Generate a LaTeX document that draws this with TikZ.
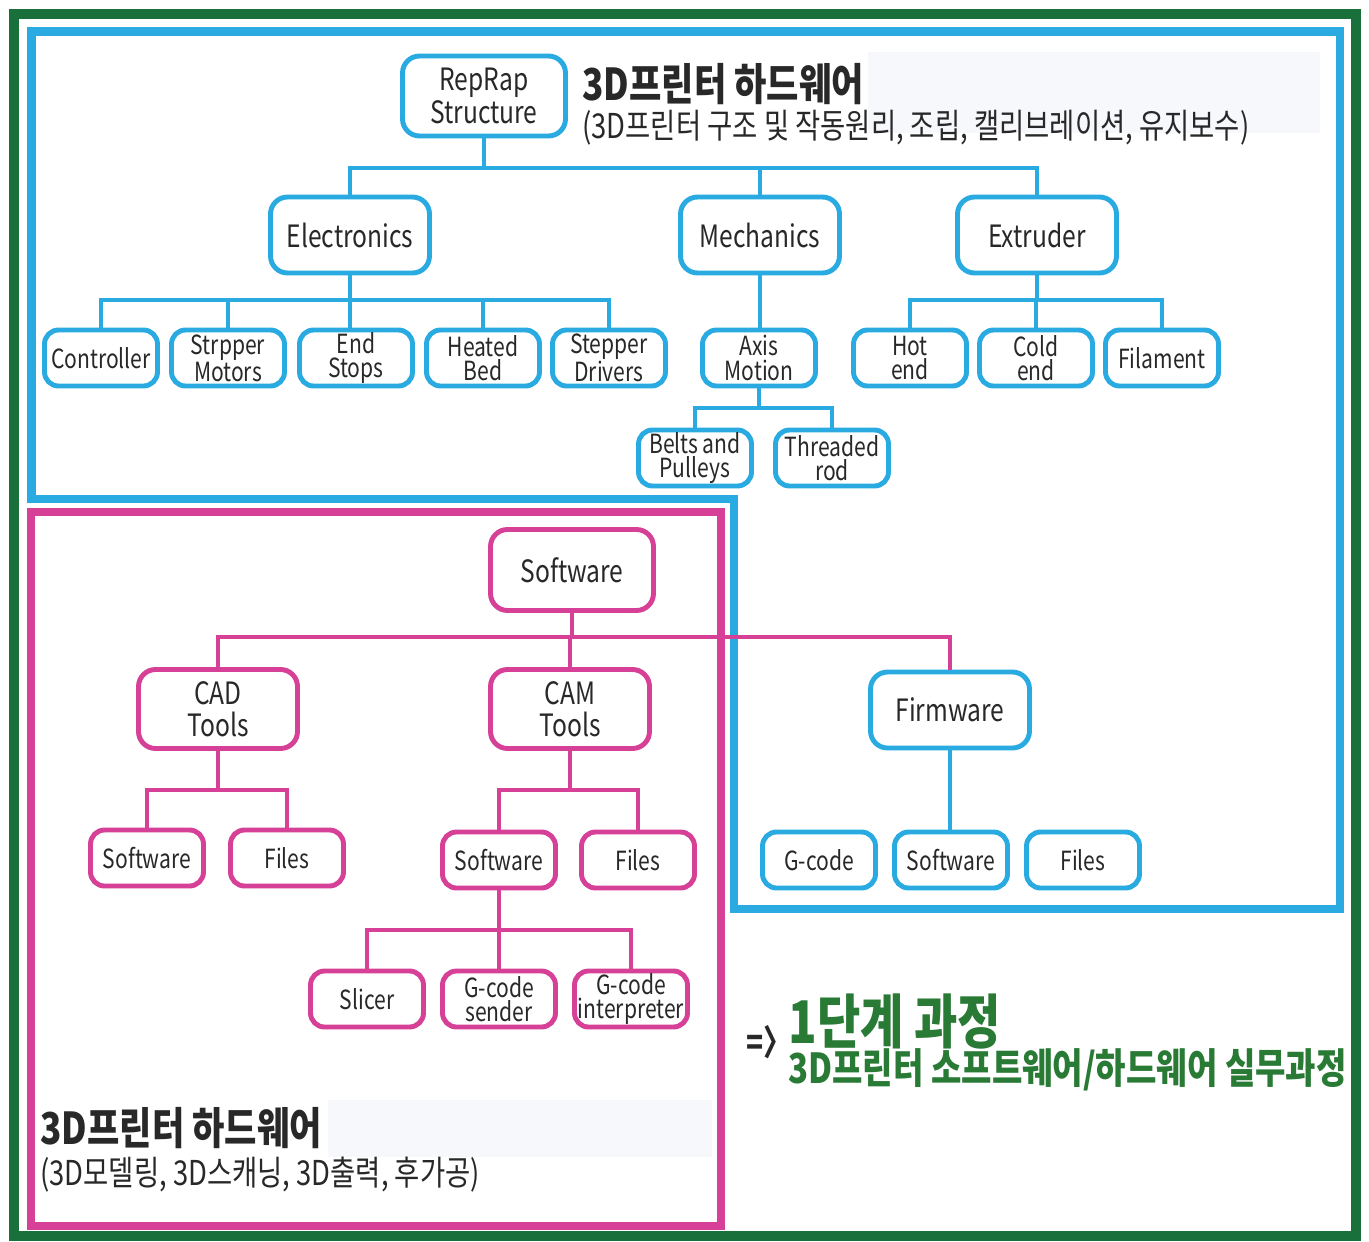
\documentclass[tikz,border=0pt]{standalone}
\usepackage{fontspec}
\setmainfont{Noto Sans CJK KR}[FakeStretch=0.8]
\usetikzlibrary{calc}
\definecolor{myblue}{RGB}{41,171,226}
\definecolor{mypink}{RGB}{214,64,150}
\definecolor{mygreen}{RGB}{26,112,58}
\definecolor{gtext}{RGB}{40,122,52}
\definecolor{txt}{RGB}{40,40,40}
\definecolor{faint}{RGB}{247,248,251}
\begin{document}
\begin{tikzpicture}[x=0.02cm,y=-0.02cm,
  box/.style={draw, line width=2.8pt, rounded corners=0.34cm, fill=white, text=txt, align=center, inner sep=0pt},
  big/.style={box, minimum width=3.18cm, minimum height=1.52cm, font=\fontsize{17.5}{18.5}\selectfont},
  leaf/.style={box, rounded corners=0.28cm, minimum width=2.26cm, minimum height=1.12cm, font=\fontsize{15}{14}\selectfont},
  bb/.style={draw=myblue},
  pb/.style={draw=mypink},
  bconn/.style={draw=myblue, line width=2.8pt},
  pconn/.style={draw=mypink, line width=2.8pt},
  frame/.style={line width=4.6pt},
  lbl/.style={inner sep=0pt, anchor=west, text=txt}
]
\useasboundingbox (0,0) rectangle (1369,1241);
\fill[white] (0,0) rectangle (1369,1241);
% faint backgrounds behind headings
\fill[faint] (868,52) rectangle (1320,133);
\fill[faint] (328,1100) rectangle (712,1157);
% frames
\draw[mygreen, line width=6.2pt] (14,14) rectangle (1356,1236);
\draw[myblue, frame] (31.5,31.5) -- (1340,31.5) -- (1340,909) -- (734,909) -- (734,499) -- (31.5,499) -- cycle;
\draw[mypink, frame] (31,512) rectangle (721,1226);

% headings
\node[lbl, font=\fontsize{25}{27}\bfseries] (h1) at (582,84) {3D프린터 하드웨어};
\node[lbl, font=\fontsize{19.5}{21}\selectfont] (s1) at (582,128) {(3D프린터 구조 및 작동원리, 조립, 캘리브레이션, 유지보수)};
\node[lbl, font=\fontsize{25}{27}\bfseries] (h2) at (40,1128) {3D프린터 하드웨어};
\node[lbl, font=\fontsize{19.5}{21}\selectfont] (s2) at (40,1175) {(3D모델링, 3D스캐닝, 3D출력, 후가공)};
\node[lbl, font=\fontsize{20}{22}\bfseries] (arr) at (746,1042) {=〉};
\node[lbl, text=gtext, font=\fontsize{33.5}{35}\bfseries] (g1) at (788,1022) {1단계 과정};
\node[lbl, text=gtext, font=\fontsize{23.5}{25}\bfseries] (g2) at (788,1070) {3D프린터 소프트웨어/하드웨어 실무과정};

% blue tree
\node[big, bb, minimum width=3.26cm, minimum height=1.6cm] (rep) at (484,96) {RepRap\\Structure};
\node[big, bb] (ele) at (350,235) {Electronics};
\node[big, bb] (mec) at (760,235) {Mechanics};
\node[big, bb] (ext) at (1037,235) {Extruder};
\node[leaf, bb] (ctl) at (101,358) {Controller};
\node[leaf, bb] (smo) at (228,358) {Strpper\\Motors};
\node[leaf, bb] (est) at (356,358) {End\\Stops};
\node[leaf, bb] (hbe) at (483,358) {Heated\\Bed};
\node[leaf, bb] (sdr) at (609,358) {Stepper\\Drivers};
\node[leaf, bb] (axm) at (759,358) {Axis\\Motion};
\node[leaf, bb] (hot) at (910,358) {Hot\\end};
\node[leaf, bb] (cold) at (1036,358) {Cold\\end};
\node[leaf, bb] (fil) at (1162,358) {Filament};
\node[leaf, bb] (bel) at (695,458) {Belts and\\Pulleys};
\node[leaf, bb] (thr) at (832,458) {Threaded\\rod};
\node[big, bb] (fw) at (950,710) {Firmware};
\node[leaf, bb] (gco) at (819,860) {G-code};
\node[leaf, bb] (fsw) at (951,860) {Software};
\node[leaf, bb] (ffi) at (1083,860) {Files};

% pink tree
\node[big, pb, minimum width=3.26cm, minimum height=1.62cm] (sw) at (572,570) {Software};
\node[big, pb, minimum height=1.58cm] (cad) at (218,709) {CAD\\Tools};
\node[big, pb, minimum height=1.58cm] (cam) at (570,709) {CAM\\Tools};
\node[leaf, pb] (csw) at (147,858) {Software};
\node[leaf, pb] (cfi) at (287,858) {Files};
\node[leaf, pb] (msw) at (499,860) {Software};
\node[leaf, pb] (mfi) at (638,860) {Files};
\node[leaf, pb] (sli) at (367,999) {Slicer};
\node[leaf, pb] (gse) at (499,999) {G-code\\sender};
\node[leaf, pb] (gin) at (631,999) {G-code\\interpreter};

% bus coordinates
\coordinate (b1) at (484,168);
\coordinate (b2) at (350,300);
\coordinate (b3) at (759,408);
\coordinate (b4) at (1037,300);
\coordinate (p1) at (572,637);
\coordinate (p2) at (218,790);
\coordinate (p3) at (570,790);
\coordinate (p4) at (499,930);

% blue connectors
\draw[bconn] (rep.south) -- (rep.south |- b1);
\draw[bconn] (ele.north) |- (b1) -| (ext.north);
\draw[bconn] (mec.north) -- (mec.north |- b1);
\draw[bconn] (ele.south) -- (ele.south |- est.north);
\draw[bconn] (ctl.north) |- (b2) -| (sdr.north);
\draw[bconn] (smo.north) -- (smo.north |- b2);
\draw[bconn] (hbe.north) -- (hbe.north |- b2);
\draw[bconn] (mec.south) -- (mec.south |- axm.north);
\draw[bconn] (axm.south) -- (b3);
\draw[bconn] (bel.north) |- (b3) -| (thr.north);
\draw[bconn] (ext.south) -- (b4);
\draw[bconn] (hot.north) |- (b4) -| (fil.north);
\draw[bconn] (cold.north) -- (cold.north |- b4);
\draw[bconn] (fw.south) -- (fw.south |- fsw.north);

% pink connectors
\draw[pconn] (sw.south) -- (p1);
\draw[pconn] (cad.north) |- (p1) -| (fw.north);
\draw[pconn] (cam.north) -- (cam.north |- p1);
\draw[pconn] (cad.south) -- (p2);
\draw[pconn] (csw.north) |- (p2) -| (cfi.north);
\draw[pconn] (cam.south) -- (p3);
\draw[pconn] (msw.north) |- (p3) -| (mfi.north);
\draw[pconn] (msw.south) -- (p4);
\draw[pconn] (sli.north) |- (p4) -| (gin.north);
\draw[pconn] (gse.north) -- (gse.north |- p4);
\end{tikzpicture}
\end{document}
